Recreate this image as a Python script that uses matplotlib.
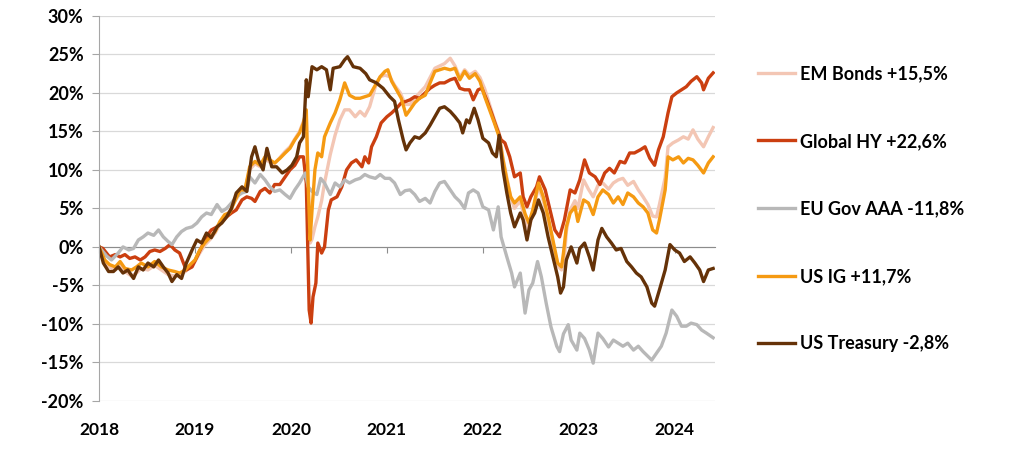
import matplotlib
matplotlib.use("Agg")
import matplotlib.pyplot as plt
import numpy as np

plt.rcParams['font.family'] = ['Lato', 'DejaVu Sans']

# years since start of 2018 / cumulative return in %
t_em = [0, 0.06, 0.11, 0.17, 0.22, 0.27, 0.34, 0.39, 0.44, 0.51, 0.58, 0.65, 0.72, 0.79, 0.84, 0.9, 0.95,
        1.0, 1.05, 1.1, 1.16, 1.21, 1.26, 1.31, 1.36, 1.42, 1.47, 1.52, 1.57, 1.625, 1.68, 1.73, 1.78, 1.83,
        1.885, 1.94, 1.99, 2.04, 2.09, 2.13, 2.16, 2.18, 2.2, 2.22, 2.25, 2.28, 2.32, 2.35, 2.41, 2.46, 2.51,
        2.56, 2.61, 2.67, 2.72, 2.77, 2.82, 2.88, 2.93, 2.98, 3.03, 3.08, 3.14, 3.19, 3.24, 3.29, 3.34, 3.4,
        3.45, 3.5, 3.55, 3.6, 3.66, 3.71, 3.76, 3.81, 3.86, 3.92, 3.97, 4.02, 4.07, 4.12, 4.17, 4.21, 4.25,
        4.29, 4.33, 4.39, 4.44, 4.48, 4.52, 4.58, 4.63, 4.68, 4.73, 4.78, 4.82, 4.85, 4.87, 4.91, 4.96, 4.99,
        5.05, 5.1, 5.15, 5.2, 5.25, 5.31, 5.36, 5.41, 5.46, 5.51, 5.57, 5.62, 5.67, 5.72, 5.77, 5.81, 5.84,
        5.9, 5.93, 5.98, 6.04, 6.09, 6.14, 6.19, 6.24, 6.3, 6.35, 6.4]
v_em = [0, -1.9, -2.6, -3.0, -2.4, -3.2, -3.8, -3.4, -2.8, -3.0, -2.4, -3.0, -3.6, -3.8, -3.6, -3.2, -2.6,
        -1.9, -0.8, 0.2, 1.0, 1.8, 3.0, 4.0, 4.6, 6.0, 7.0, 7.4, 10.0, 10.8, 10.4, 11.4, 11.0, 10.8,
        11.6, 12.4, 13.0, 14.0, 15.0, 16.3, 17.0, 8.0, 0.5, 1.0, 2.6, 3.9, 6.0, 8.3, 12.0, 14.5, 16.5,
        17.8, 17.8, 16.9, 17.6, 17.0, 18.2, 20.8, 22.1, 22.3, 22.1, 21.0, 20.0, 18.5, 18.5, 19.3, 20.0, 20.8,
        22.0, 23.2, 23.5, 23.8, 24.5, 23.5, 22.0, 23.0, 22.3, 22.8, 22.0, 20.5, 18.5, 16.5, 14.8, 11.5, 9.0,
        6.5, 5.0, 6.0, 3.5, 2.2, 4.5, 7.8, 6.0, 3.5, 0.5, -2.4, -3.0, -1.5, 2.0, 4.8, 6.0, 5.0,
        8.7, 7.5, 6.5, 8.0, 8.3, 7.5, 8.3, 8.7, 8.9, 8.0, 8.5, 7.4, 6.5, 5.5, 4.0, 3.9, 5.5,
        9.0, 13.0, 13.5, 13.9, 14.3, 14.0, 15.2, 14.0, 13.0, 14.3, 15.5]

t_hy = [0, 0.04, 0.11, 0.17, 0.22, 0.27, 0.32, 0.375, 0.43, 0.48, 0.53, 0.58, 0.635, 0.69, 0.74, 0.79, 0.84,
        0.88, 0.91, 0.97, 1.02, 1.07, 1.12, 1.17, 1.23, 1.28, 1.33, 1.38, 1.43, 1.49, 1.54, 1.59, 1.625, 1.68,
        1.73, 1.78, 1.83, 1.885, 1.94, 1.99, 2.04, 2.09, 2.13, 2.16, 2.19, 2.21, 2.23, 2.26, 2.28, 2.32, 2.35,
        2.39, 2.42, 2.48, 2.53, 2.58, 2.63, 2.68, 2.74, 2.77, 2.81, 2.84, 2.89, 2.94, 3.0, 3.05, 3.1, 3.15,
        3.2, 3.24, 3.29, 3.34, 3.4, 3.45, 3.5, 3.55, 3.6, 3.66, 3.71, 3.76, 3.81, 3.86, 3.9, 3.95, 3.99,
        4.04, 4.09, 4.14, 4.19, 4.23, 4.28, 4.33, 4.39, 4.42, 4.46, 4.5, 4.56, 4.59, 4.65, 4.7, 4.75, 4.8,
        4.85, 4.91, 4.96, 5.01, 5.06, 5.11, 5.17, 5.22, 5.27, 5.32, 5.37, 5.43, 5.48, 5.53, 5.58, 5.64, 5.69,
        5.74, 5.79, 5.83, 5.88, 5.93, 5.97, 6.02, 6.07, 6.12, 6.17, 6.23, 6.28, 6.3, 6.35, 6.4]
v_hy = [0, -0.2, -1.3, -1.0, -1.3, -1.0, -1.5, -1.3, -1.7, -1.3, -0.6, -0.4, -0.6, -0.2, 0.3, -0.4, -0.8,
        -2.1, -3.0, -2.6, -1.3, 0, 1.3, 2.2, 2.6, 3.3, 3.9, 4.4, 4.8, 6.1, 6.5, 6.3, 5.9, 7.2,
        7.6, 7.0, 8.1, 8.1, 9.1, 10.0, 10.6, 11.7, 11.7, 8.3, -8.2, -9.9, -6.5, -4.7, 0.5, -0.8, 0,
        4.8, 6.1, 6.5, 7.8, 10.0, 10.9, 11.3, 10.4, 11.7, 10.9, 13.0, 14.3, 16.1, 16.9, 17.4, 18.0, 18.7,
        18.9, 19.1, 19.5, 19.3, 20.0, 20.6, 21.0, 21.3, 21.3, 21.7, 21.9, 20.6, 20.4, 20.4, 19.1, 20.4, 20.6,
        19.1, 17.4, 15.6, 13.9, 13.5, 11.7, 9.1, 9.6, 6.5, 5.2, 6.5, 7.8, 9.1, 7.4, 4.8, 2.2, 1.3,
        3.5, 7.4, 7.0, 8.7, 11.3, 9.6, 9.1, 8.1, 9.6, 10.2, 9.6, 11.1, 10.9, 12.2, 12.2, 12.6, 13.0,
        11.5, 10.6, 12.6, 14.3, 17.4, 19.5, 20.0, 20.4, 20.8, 21.5, 22.1, 21.3, 20.4, 21.9, 22.6]

t_eu = [0, 0.08, 0.13, 0.2, 0.25, 0.31, 0.36, 0.41, 0.46, 0.51, 0.57, 0.62, 0.67, 0.72, 0.76, 0.81, 0.86,
        0.91, 0.97, 1.02, 1.07, 1.12, 1.17, 1.23, 1.28, 1.33, 1.38, 1.43, 1.49, 1.54, 1.57, 1.625, 1.68, 1.73,
        1.78, 1.83, 1.885, 1.94, 1.99, 2.04, 2.09, 2.15, 2.18, 2.22, 2.27, 2.31, 2.35, 2.41, 2.46, 2.51, 2.56,
        2.61, 2.67, 2.72, 2.77, 2.82, 2.88, 2.93, 2.98, 3.03, 3.08, 3.14, 3.19, 3.24, 3.29, 3.34, 3.4, 3.45,
        3.5, 3.55, 3.6, 3.66, 3.71, 3.76, 3.81, 3.85, 3.9, 3.95, 4.0, 4.06, 4.11, 4.16, 4.19, 4.25, 4.3,
        4.33, 4.39, 4.44, 4.48, 4.52, 4.57, 4.61, 4.66, 4.71, 4.77, 4.8, 4.84, 4.89, 4.92, 4.98, 5.01, 5.06,
        5.11, 5.15, 5.2, 5.25, 5.31, 5.36, 5.41, 5.46, 5.51, 5.57, 5.62, 5.67, 5.72, 5.76, 5.81, 5.86, 5.91,
        5.97, 6.02, 6.07, 6.12, 6.17, 6.23, 6.28, 6.33, 6.4]
v_eu = [0, -1.2, -1.7, -0.8, 0, -0.4, -0.2, 0.9, 1.3, 1.8, 1.5, 2.2, 1.3, 0.7, 0.3, 1.3, 2.0,
        2.4, 2.6, 3.1, 3.9, 4.4, 4.2, 5.5, 4.6, 5.0, 5.7, 6.5, 7.0, 7.2, 9.1, 8.3, 9.4, 8.7,
        7.8, 7.2, 7.4, 6.8, 6.3, 7.4, 8.3, 9.6, 7.8, 7.2, 6.8, 8.9, 8.3, 6.8, 8.3, 7.8, 8.7,
        8.3, 8.7, 8.9, 9.4, 9.1, 8.9, 9.4, 8.9, 8.9, 8.3, 6.8, 7.3, 7.4, 6.8, 5.9, 6.3, 5.7,
        7.2, 8.3, 8.5, 7.4, 6.5, 5.9, 5.0, 7.0, 7.4, 7.0, 5.2, 4.8, 2.2, 5.2, 1.3, -1.3, -3.4,
        -5.2, -3.4, -8.6, -5.6, -4.7, -1.9, -3.9, -7.3, -10.4, -12.9, -13.6, -11.3, -10.1, -12.1, -13.4, -11.2, -11.9,
        -13.4, -15.1, -11.2, -11.9, -13.0, -12.1, -12.5, -12.9, -12.5, -13.4, -12.9, -13.6, -14.2, -14.7, -13.8, -12.9, -11.2,
        -8.2, -9.0, -10.3, -10.3, -9.9, -10.1, -10.8, -11.2, -11.8]

t_ig = [0, 0.06, 0.11, 0.17, 0.22, 0.27, 0.34, 0.39, 0.44, 0.51, 0.58, 0.65, 0.72, 0.79, 0.84, 0.9, 0.95,
        1.0, 1.05, 1.1, 1.16, 1.21, 1.26, 1.31, 1.36, 1.42, 1.47, 1.52, 1.57, 1.625, 1.68, 1.73, 1.78, 1.83,
        1.885, 1.94, 1.99, 2.04, 2.09, 2.13, 2.16, 2.18, 2.2, 2.22, 2.25, 2.28, 2.32, 2.35, 2.41, 2.46, 2.51,
        2.56, 2.61, 2.67, 2.72, 2.77, 2.82, 2.88, 2.93, 2.98, 3.01, 3.05, 3.1, 3.15, 3.2, 3.24, 3.29, 3.34,
        3.4, 3.45, 3.5, 3.55, 3.6, 3.66, 3.71, 3.76, 3.81, 3.86, 3.92, 3.97, 4.02, 4.07, 4.12, 4.17, 4.21,
        4.25, 4.29, 4.33, 4.39, 4.44, 4.48, 4.52, 4.58, 4.63, 4.68, 4.73, 4.78, 4.82, 4.84, 4.87, 4.91, 4.96,
        4.99, 5.05, 5.1, 5.15, 5.2, 5.25, 5.31, 5.36, 5.41, 5.46, 5.51, 5.57, 5.62, 5.67, 5.72, 5.77, 5.81,
        5.84, 5.9, 5.93, 5.98, 6.04, 6.09, 6.14, 6.19, 6.24, 6.3, 6.35, 6.4]
v_ig = [0, -1.7, -2.3, -2.6, -1.9, -2.8, -3.0, -2.6, -2.1, -2.6, -1.9, -2.6, -3.0, -3.2, -3.4, -3.0, -2.3,
        -1.7, -0.4, 0.5, 1.3, 2.0, 3.3, 4.2, 4.4, 6.1, 7.4, 7.4, 10.4, 11.1, 10.6, 11.7, 11.3, 10.9,
        11.5, 12.2, 12.8, 13.9, 14.8, 16.1, 17.8, 7.8, 0.9, 4.8, 10.0, 12.2, 11.7, 14.3, 16.1, 17.4, 19.1,
        21.3, 19.7, 19.3, 19.3, 19.5, 19.7, 21.0, 22.1, 22.8, 23.0, 21.5, 20.4, 19.3, 17.1, 17.8, 18.7, 19.3,
        19.7, 21.3, 22.8, 23.0, 23.2, 23.0, 23.2, 21.7, 22.8, 21.9, 22.5, 21.5, 19.5, 17.8, 16.1, 14.3, 11.3,
        8.7, 6.5, 5.7, 6.5, 4.3, 3.1, 4.8, 8.3, 6.5, 3.9, 0.9, -2.1, -2.6, -0.8, 2.6, 4.4, 5.2,
        3.3, 6.1, 5.7, 4.2, 6.5, 7.4, 6.8, 5.7, 6.5, 5.5, 7.0, 6.5, 5.7, 5.2, 4.4, 2.2, 1.8,
        3.5, 7.4, 11.7, 11.3, 11.7, 10.9, 11.5, 11.3, 10.6, 9.6, 10.9, 11.7]

t_ust = [0, 0.045, 0.1, 0.15, 0.2, 0.25, 0.3, 0.36, 0.41, 0.46, 0.51, 0.57, 0.62, 0.67, 0.72, 0.76, 0.81,
         0.86, 0.91, 0.97, 1.02, 1.07, 1.12, 1.17, 1.23, 1.28, 1.33, 1.38, 1.43, 1.49, 1.54, 1.59, 1.625, 1.66,
         1.71, 1.75, 1.8, 1.85, 1.91, 1.96, 2.01, 2.06, 2.09, 2.13, 2.16, 2.18, 2.22, 2.27, 2.32, 2.37, 2.41,
         2.44, 2.51, 2.56, 2.59, 2.65, 2.72, 2.78, 2.82, 2.89, 2.96, 3.03, 3.08, 3.12, 3.17, 3.2, 3.24, 3.29,
         3.34, 3.4, 3.45, 3.5, 3.55, 3.6, 3.66, 3.71, 3.76, 3.79, 3.83, 3.86, 3.91, 3.95, 4.0, 4.06, 4.1,
         4.14, 4.17, 4.21, 4.25, 4.29, 4.33, 4.39, 4.42, 4.46, 4.5, 4.54, 4.58, 4.63, 4.68, 4.73, 4.78, 4.81,
         4.84, 4.87, 4.92, 4.98, 5.01, 5.06, 5.11, 5.15, 5.2, 5.24, 5.29, 5.34, 5.39, 5.44, 5.5, 5.55, 5.6,
         5.65, 5.71, 5.76, 5.79, 5.84, 5.9, 5.95, 6.0, 6.05, 6.1, 6.16, 6.21, 6.26, 6.3, 6.35, 6.4]
v_ust = [0, -2.1, -3.2, -3.2, -2.6, -3.4, -3.0, -4.1, -2.6, -3.0, -2.1, -2.6, -1.7, -2.6, -3.4, -4.5, -3.6,
         -4.1, -2.1, -0.4, 0.9, 0.5, 1.8, 1.2, 2.6, 3.1, 3.9, 5.0, 7.0, 7.8, 7.2, 11.7, 13.0, 11.3,
         10.0, 12.8, 10.4, 10.4, 9.6, 10.0, 10.6, 11.7, 13.5, 14.3, 21.7, 19.5, 23.4, 23.0, 23.4, 23.0, 20.4,
         23.2, 23.4, 24.3, 24.7, 23.4, 23.2, 22.5, 21.7, 21.3, 20.6, 19.5, 18.9, 16.5, 13.9, 12.6, 13.5, 14.3,
         14.1, 14.8, 15.8, 16.9, 18.0, 18.2, 17.6, 16.9, 16.1, 14.8, 16.5, 16.1, 18.0, 16.5, 14.1, 13.5, 12.2,
         11.7, 14.5, 10.0, 7.0, 4.4, 2.6, 4.4, 3.5, 0.9, 3.5, 4.4, 6.1, 4.4, 1.3, -1.3, -3.9, -6.0,
         -5.2, -1.7, 0, -2.1, -0.2, 0.5, -1.3, -3.0, 0.9, 2.4, 1.3, 0.5, -0.4, -0.2, -1.9, -2.6, -3.4,
         -3.9, -5.2, -7.3, -7.7, -5.6, -3.0, 0.3, -0.4, -0.8, -1.9, -1.3, -2.1, -3.0, -4.5, -3.0, -2.8]

labels = ['EM Bonds +15,5%', 'Global HY +22,6%', 'EU Gov AAA -11,8%', 'US IG +11,7%', 'US Treasury -2,8%']
colors = ['#F3C6B4', '#CB3F10', '#B8B8B8', '#F59A12', '#653208']
years = [2018, 2019, 2020, 2021, 2022, 2023, 2024]

series = [(t_em, v_em), (t_hy, v_hy), (t_eu, v_eu), (t_ig, v_ig), (t_ust, v_ust)]

fig = plt.figure(figsize=(10.24, 4.54), dpi=100)
ax = fig.add_axes([0.0967, 0.117, 0.6016, 0.848])

for (t, v), lab, c in zip(series, labels, colors):
    ax.plot(2018 + np.array(t), np.array(v) / 100, color=c, lw=2.4, label=lab)

ax.set_xlim(2018, 2024.42)
ax.set_ylim(-0.20, 0.30)
ax.set_yticks(np.arange(-0.20, 0.301, 0.05))
ax.yaxis.set_major_formatter(matplotlib.ticker.FuncFormatter(lambda y, _: f'{int(round(y * 100))}%'))
ax.grid(axis='y', color='#D9D9D9', lw=0.9)
ax.set_axisbelow(True)

for s in ['top', 'right']:
    ax.spines[s].set_visible(False)
ax.spines['left'].set_color('#A6A6A6')
ax.spines['bottom'].set_position(('data', 0))
ax.spines['bottom'].set_color('#8C8C8C')
ax.spines['bottom'].set_zorder(1)

ax.set_xticks(years)
ax.tick_params(axis='x', length=4, color='#8C8C8C', labelbottom=False)
ax.tick_params(axis='y', length=5, color='#A6A6A6', labelsize=13, pad=6)
for lab in ax.get_yticklabels():
    lab.set_fontweight('bold')

sec = ax.secondary_xaxis(0)
sec.set_xticks(years)
sec.set_xticklabels([str(y) for y in years], fontsize=12.5, fontweight='bold')
sec.tick_params(length=0, pad=15)
sec.spines['bottom'].set_visible(False)

fig.legend(loc='center left', bbox_to_anchor=(0.740, 0.54), frameon=False,
           borderaxespad=0, borderpad=0, handlelength=2.05, handletextpad=0.28,
           labelspacing=2.8, prop={'size': 13, 'weight': 'bold'})

fig.savefig('out.png', dpi=100, facecolor='white')
